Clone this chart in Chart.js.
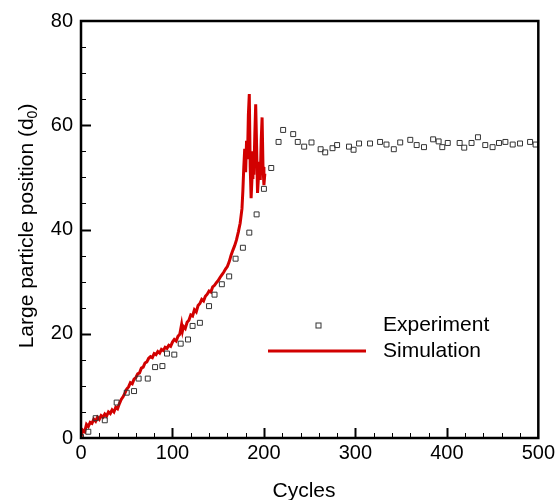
<!DOCTYPE html>
<html>
<head>
<meta charset="utf-8">
<script src="https://cdn.jsdelivr.net/npm/chart.js@4/dist/chart.umd.min.js"></script>
<style>
  html, body { margin: 0; padding: 0; background: #fff; }
  #wrap { width: 558px; height: 500px; }
</style>
</head>
<body>
<div id="wrap"><canvas id="chart" width="558" height="500"></canvas></div>
<script>
// experiment (squares)
const expCycles = [0, 8, 16, 26, 39, 50, 58, 63, 73, 81, 89, 94, 102, 109, 117, 122, 130, 140,
  146, 154, 162, 169, 177, 184, 192, 200, 208, 216, 221, 232, 237, 244, 252, 262, 267, 275, 280,
  293, 298, 304, 316, 327, 334, 342, 349, 360, 367, 375, 385, 391, 395, 401, 414, 419, 427, 434,
  442, 450, 457, 464, 472, 480, 491, 497];
const expPosition = [0.2, 1.2, 3.8, 3.4, 6.8, 8.7, 9.0, 11.4, 11.4, 13.6, 13.8, 16.2, 16.0, 18.1,
  18.9, 21.5, 22.1, 25.3, 27.5, 29.5, 31.0, 34.4, 36.5, 39.4, 42.9, 47.8, 51.8, 56.8, 59.1, 58.3,
  56.8, 55.9, 56.7, 55.4, 54.8, 55.6, 56.2, 55.9, 55.3, 56.5, 56.5, 56.8, 56.3, 55.4, 56.7, 57.2,
  56.2, 55.8, 57.3, 56.9, 55.8, 56.6, 56.6, 55.7, 56.6, 57.7, 56.2, 55.8, 56.6, 56.8, 56.3, 56.5,
  56.8, 56.3];

// simulation (red line)
const simCycles = [0, 2, 4, 6, 8, 10, 12, 14, 16, 18, 20, 22, 24, 26, 28, 30, 32, 34, 36, 38, 40,
  42, 44, 46, 48, 50, 52, 54, 56, 58, 60, 62, 64, 66, 68, 70, 72, 74, 76, 78, 80, 82, 84, 86, 88,
  90, 92, 94, 96, 98, 100, 102, 104, 106, 108, 110, 111, 112, 114, 116, 118, 120, 122, 124, 126,
  128, 130, 132, 134, 136, 138, 140, 142, 144, 146, 148, 150, 152, 154, 156, 158, 160, 162, 164,
  166, 168, 170, 172, 174, 176, 177, 178, 179, 180, 181, 182, 183, 184, 185, 186, 187, 188, 189,
  190, 191, 192, 193, 194, 195, 196, 197, 198, 199, 200, 201];
const simPosition = [0.2, 1.5, 1.2, 2.6, 2.2, 3.0, 2.8, 3.6, 3.2, 4.0, 3.6, 4.3, 4.0, 4.6, 4.2,
  5.0, 4.7, 5.4, 5.0, 5.9, 5.6, 6.6, 7.4, 7.9, 8.6, 9.4, 9.8, 10.6, 10.4, 11.3, 11.6, 12.3, 12.5,
  13.4, 13.6, 14.4, 14.6, 15.3, 15.6, 15.4, 16.2, 16.0, 16.6, 16.3, 17.0, 16.8, 17.4, 17.2, 17.8,
  17.6, 18.4, 18.9, 18.6, 19.5, 19.9, 21.8, 20.6, 21.4, 21.0, 22.2, 22.6, 23.6, 23.4, 24.6, 24.2,
  25.4, 25.8, 26.6, 26.3, 27.2, 27.6, 28.2, 28.0, 29.0, 29.3, 29.8, 30.2, 30.8, 31.3, 31.8, 32.4,
  32.9, 33.8, 35.0, 36.0, 36.9, 38.0, 39.5, 41.2, 44.0, 47.5, 52.0, 55.5, 51.0, 57.0, 53.5, 62.0,
  66.0, 52.0, 46.0, 50.0, 55.0, 50.5, 58.0, 64.0, 56.0, 47.0, 50.0, 53.0, 49.5, 57.0, 61.5, 52.0,
  48.5, 50.7];

const xTicks = [0, 100, 200, 300, 400, 500];
const yTicks = [0, 20, 40, 60, 80];

const FONT = '"Liberation Sans", Arial, Helvetica, sans-serif';
const RED = '#d20000';

// frame, inward ticks, axis titles, legend
const decor = {
  id: 'decor',
  afterDraw(chart) {
    const { ctx, chartArea: a, scales } = chart;
    const xs = scales.x, ys = scales.y;
    ctx.save();
    ctx.strokeStyle = '#000';

    // minor / major ticks pointing inward
    for (let v = 20; v < 500; v += 20) {
      const major = v % 100 === 0;
      const px = Math.round(xs.getPixelForValue(v)) + 0.5;
      ctx.lineWidth = major ? 2 : 1;
      ctx.beginPath();
      ctx.moveTo(px, a.bottom);
      ctx.lineTo(px, a.bottom - (major ? 10 : 5));
      ctx.stroke();
    }
    for (let v = 5; v < 80; v += 5) {
      const major = v % 20 === 0;
      const py = Math.round(ys.getPixelForValue(v)) + 0.5;
      ctx.lineWidth = major ? 2 : 1;
      ctx.beginPath();
      ctx.moveTo(a.left, py);
      ctx.lineTo(a.left + (major ? 10 : 5), py);
      ctx.stroke();
    }

    // frame
    ctx.lineWidth = 2.5;
    ctx.strokeRect(a.left, a.top, a.right - a.left, a.bottom - a.top);

    // x title
    ctx.fillStyle = '#000';
    ctx.font = '21px ' + FONT;
    ctx.textAlign = 'center';
    ctx.textBaseline = 'middle';
    ctx.fillText('Cycles', 304, 491);

    // y title with subscript
    ctx.save();
    ctx.translate(27, 226);
    ctx.rotate(-Math.PI / 2);
    const main = 'Large particle position (d';
    ctx.font = '21px ' + FONT;
    const w1 = ctx.measureText(main).width;
    const w3 = ctx.measureText(')').width;
    ctx.font = '14px ' + FONT;
    const w2 = ctx.measureText('0').width;
    let x0 = -(w1 + w2 + w3) / 2;
    ctx.textAlign = 'left';
    ctx.font = '21px ' + FONT;
    ctx.fillText(main, x0, 0);
    ctx.font = '14px ' + FONT;
    ctx.fillText('0', x0 + w1, 6);
    ctx.font = '21px ' + FONT;
    ctx.fillText(')', x0 + w1 + w2, 0);
    ctx.restore();

    // legend
    const lx = a.left + 187, ly = a.top + 304;
    ctx.lineWidth = 1;
    ctx.strokeStyle = '#333';
    ctx.strokeRect(lx + 48, ly - 2, 5, 5);
    ctx.strokeStyle = RED;
    ctx.lineWidth = 3;
    ctx.beginPath();
    ctx.moveTo(lx, ly + 26);
    ctx.lineTo(lx + 98, ly + 26);
    ctx.stroke();
    ctx.fillStyle = '#000';
    ctx.font = '21px ' + FONT;
    ctx.textAlign = 'left';
    ctx.textBaseline = 'middle';
    ctx.fillText('Experiment', lx + 115, ly);
    ctx.fillText('Simulation', lx + 115, ly + 26);
    ctx.restore();
  }
};

new Chart(document.getElementById('chart'), {
  type: 'scatter',
  data: {
    datasets: [
      {
        label: 'Experiment',
        data: expCycles.map((c, i) => ({ x: c, y: expPosition[i] })),
        pointStyle: 'rect',
        pointRadius: 3.5,
        borderWidth: 1,
        borderColor: '#333',
        backgroundColor: 'rgba(255,255,255,0)',
        showLine: false,
        order: 0
      },
      {
        label: 'Simulation',
        data: simCycles.map((c, i) => ({ x: c, y: simPosition[i] })),
        showLine: true,
        borderColor: RED,
        borderWidth: 3,
        pointRadius: 0,
        tension: 0,
        fill: false,
        order: 1
      }
    ]
  },
  options: {
    responsive: false,
    animation: false,
    layout: { padding: { top: 21, right: 19, left: 0, bottom: 0 } },
    plugins: {
      legend: { display: false },
      tooltip: { enabled: false }
    },
    scales: {
      x: {
        type: 'linear',
        min: 0,
        max: 500,
        afterFit(scale) { scale.height = 62; },
        afterBuildTicks(scale) { scale.ticks = xTicks.map(v => ({ value: v })); },
        grid: { display: false, drawTicks: false },
        border: { display: false },
        ticks: { color: '#000', padding: 3, font: { size: 20, family: FONT } }
      },
      y: {
        type: 'linear',
        min: 0,
        max: 80,
        afterFit(scale) { scale.width = 81; },
        afterBuildTicks(scale) { scale.ticks = yTicks.map(v => ({ value: v })); },
        grid: { display: false, drawTicks: false },
        border: { display: false },
        ticks: { color: '#000', padding: 8, font: { size: 20, family: FONT } }
      }
    }
  },
  plugins: [decor]
});
</script>
</body>
</html>
